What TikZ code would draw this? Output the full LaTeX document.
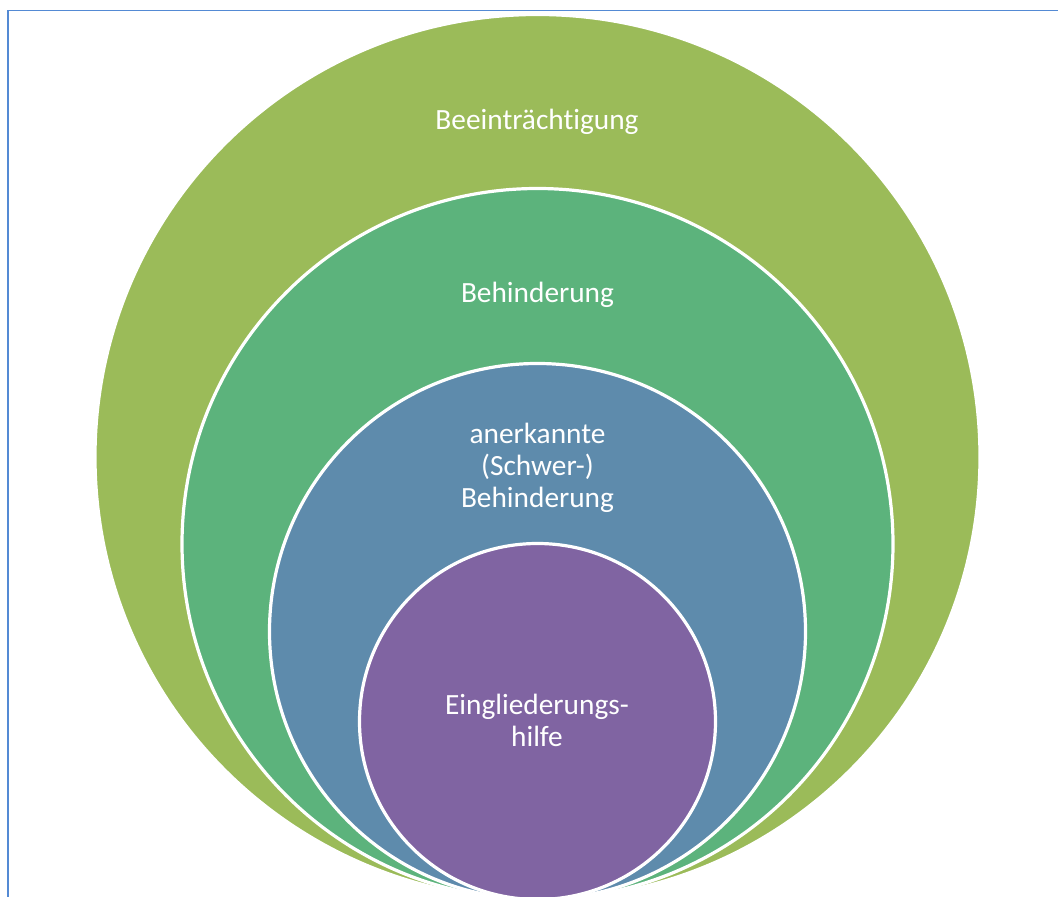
\documentclass[tikz,border=0pt]{standalone}
\usepackage{fontspec}
\setmainfont{Carlito}[Ligatures=NoCommon]
\usepackage{tikz}
\usetikzlibrary{positioning}
\definecolor{olive}{RGB}{155,187,89}
\definecolor{leaf}{RGB}{92,179,124}
\definecolor{steel}{RGB}{94,139,172}
\definecolor{plum}{RGB}{128,100,162}
\definecolor{frameblue}{RGB}{84,138,212}

\begin{document}
\begin{tikzpicture}[x=0.75pt,y=0.75pt,
    ring/.style={draw=white,line width=2.4pt},
    ringtext/.style={text=white,align=center,anchor=base,inner sep=0pt,
        font=\fontsize{22}{24}\selectfont}]
\useasboundingbox (0,0) rectangle (1058,897);

% frame
\draw[frameblue,line width=1.4pt] (8,0) -- (8,886.5) -- (1058,886.5);

% the rings, all touching at the bottom
\filldraw[ring,fill=olive] (537.5,440) circle (442.5);
\filldraw[ring,fill=leaf] (537.5,353) circle (355.5);
\filldraw[ring,fill=steel] (537.5,265.5) circle (268);
\filldraw[ring,fill=plum] (537.5,175.5) circle (178);

% texts (base = last line)
\node[ringtext] (beein) at (537,767) {Beeinträchtigung};
\node[ringtext] (behind) at (537.5,594) {Behinderung};
\node[ringtext] (anerk) at (537.5,389) {anerkannte\\(Schwer-)\\Behinderung};
\node[ringtext] (eingl) at (537,150) {Eingliederungs-\\hilfe};

\end{tikzpicture}
\end{document}
